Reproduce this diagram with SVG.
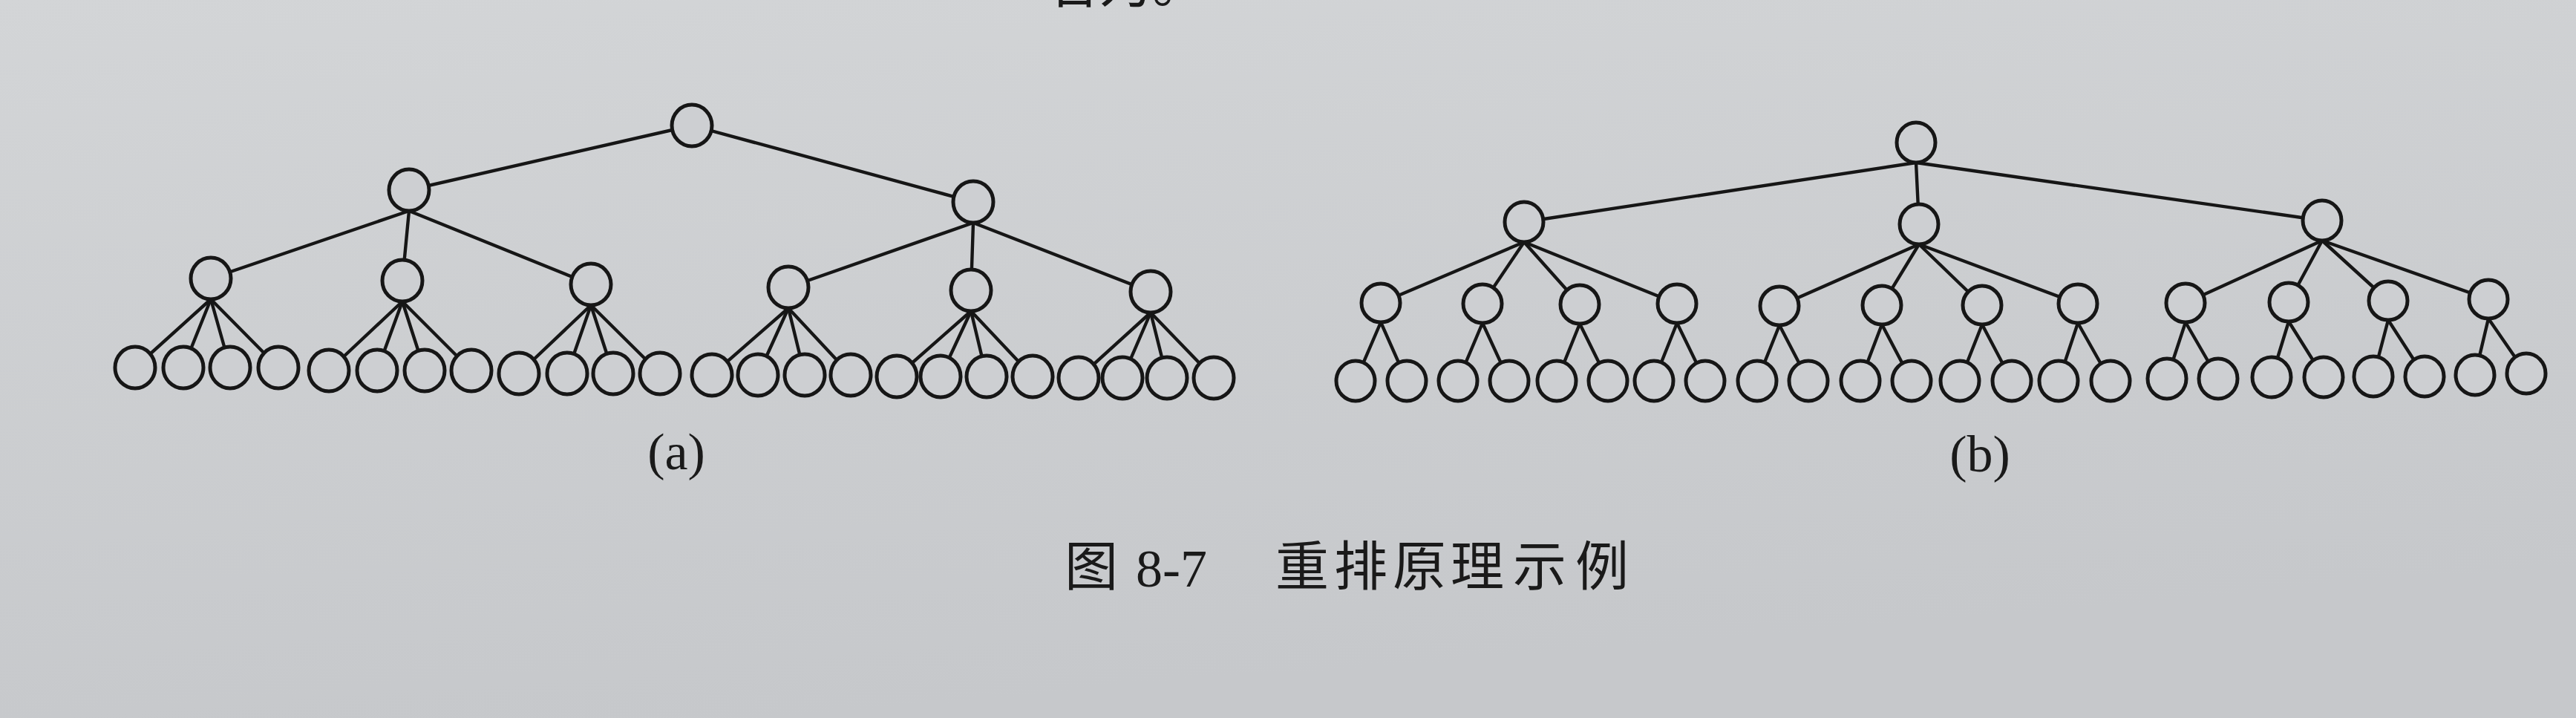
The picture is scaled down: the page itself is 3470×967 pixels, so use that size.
<svg xmlns="http://www.w3.org/2000/svg" width="3470" height="967" viewBox="0 0 3470 967">
<defs>
<linearGradient id="bg" x1="0" y1="0" x2="0.3" y2="1">
<stop offset="0" stop-color="#d3d5d7"/>
<stop offset="1" stop-color="#c6c8cb"/>
</linearGradient>
<style>
.e{stroke:#161616;stroke-width:4.4;fill:none;stroke-linecap:round}
.n{stroke:#161616;stroke-width:5;fill:#cdcfd2}
.lab{font-family:"Liberation Serif","DejaVu Serif",serif;font-size:70px;fill:#1a1a1a}
.cap{font-family:"Noto Sans CJK SC","Noto Sans CJK JP",sans-serif;font-size:72px;fill:#1a1a1a}
.num{font-family:"Liberation Serif","DejaVu Serif",serif;font-size:72px;fill:#1a1a1a}
</style>
</defs>
<rect x="0" y="0" width="3470" height="967" fill="url(#bg)"/>
<text class="cap" x="1408" y="3">名为。</text>

<g id="connectors">
<!-- tree a -->
<line class="e" x1="932" y1="169" x2="551" y2="256"/>
<line class="e" x1="932" y1="169" x2="1311" y2="272"/>
<line class="e" x1="551" y1="284" x2="284" y2="375"/>
<line class="e" x1="551" y1="284" x2="542" y2="378"/>
<line class="e" x1="551" y1="284" x2="796" y2="383"/>
<line class="e" x1="1311" y1="300" x2="1062" y2="387"/>
<line class="e" x1="1311" y1="300" x2="1308" y2="391"/>
<line class="e" x1="1311" y1="300" x2="1550" y2="393"/>
<line class="e" x1="284" y1="403" x2="182" y2="495"/>
<line class="e" x1="284" y1="403" x2="247" y2="495"/>
<line class="e" x1="284" y1="403" x2="310" y2="495"/>
<line class="e" x1="284" y1="403" x2="375" y2="495"/>
<line class="e" x1="542" y1="406" x2="443" y2="499"/>
<line class="e" x1="542" y1="406" x2="508" y2="499"/>
<line class="e" x1="542" y1="406" x2="572" y2="499"/>
<line class="e" x1="542" y1="406" x2="635" y2="499"/>
<line class="e" x1="796" y1="411" x2="699" y2="503"/>
<line class="e" x1="796" y1="411" x2="764" y2="503"/>
<line class="e" x1="796" y1="411" x2="826" y2="503"/>
<line class="e" x1="796" y1="411" x2="889" y2="503"/>
<line class="e" x1="1062" y1="415" x2="959" y2="505"/>
<line class="e" x1="1062" y1="415" x2="1021" y2="505"/>
<line class="e" x1="1062" y1="415" x2="1084" y2="505"/>
<line class="e" x1="1062" y1="415" x2="1146" y2="505"/>
<line class="e" x1="1308" y1="419" x2="1208" y2="507"/>
<line class="e" x1="1308" y1="419" x2="1267" y2="507"/>
<line class="e" x1="1308" y1="419" x2="1329" y2="507"/>
<line class="e" x1="1308" y1="419" x2="1391" y2="507"/>
<line class="e" x1="1550" y1="421" x2="1453" y2="509"/>
<line class="e" x1="1550" y1="421" x2="1512" y2="509"/>
<line class="e" x1="1550" y1="421" x2="1572" y2="509"/>
<line class="e" x1="1550" y1="421" x2="1635" y2="509"/>
<!-- tree b -->
<line class="e" x1="2581" y1="219" x2="2053" y2="299"/>
<line class="e" x1="2581" y1="219" x2="2585" y2="302"/>
<line class="e" x1="2581" y1="219" x2="3128" y2="297"/>
<line class="e" x1="2053" y1="326" x2="1860" y2="408"/>
<line class="e" x1="2053" y1="326" x2="1997" y2="409"/>
<line class="e" x1="2053" y1="326" x2="2128" y2="410"/>
<line class="e" x1="2053" y1="326" x2="2259" y2="409"/>
<line class="e" x1="2585" y1="329" x2="2397" y2="412"/>
<line class="e" x1="2585" y1="329" x2="2535" y2="411"/>
<line class="e" x1="2585" y1="329" x2="2670" y2="411"/>
<line class="e" x1="2585" y1="329" x2="2799" y2="409"/>
<line class="e" x1="3128" y1="324" x2="2944" y2="408"/>
<line class="e" x1="3128" y1="324" x2="3083" y2="407"/>
<line class="e" x1="3128" y1="324" x2="3217" y2="405"/>
<line class="e" x1="3128" y1="324" x2="3352" y2="403"/>
<line class="e" x1="1860" y1="434" x2="1826" y2="513"/>
<line class="e" x1="1860" y1="434" x2="1895" y2="513"/>
<line class="e" x1="1997" y1="435" x2="1964" y2="513"/>
<line class="e" x1="1997" y1="435" x2="2033" y2="513"/>
<line class="e" x1="2128" y1="436" x2="2097" y2="513"/>
<line class="e" x1="2128" y1="436" x2="2166" y2="513"/>
<line class="e" x1="2259" y1="435" x2="2228" y2="513"/>
<line class="e" x1="2259" y1="435" x2="2297" y2="513"/>
<line class="e" x1="2397" y1="438" x2="2367" y2="513"/>
<line class="e" x1="2397" y1="438" x2="2436" y2="513"/>
<line class="e" x1="2535" y1="437" x2="2506" y2="513"/>
<line class="e" x1="2535" y1="437" x2="2575" y2="513"/>
<line class="e" x1="2670" y1="437" x2="2640" y2="513"/>
<line class="e" x1="2670" y1="437" x2="2710" y2="513"/>
<line class="e" x1="2799" y1="435" x2="2773" y2="513"/>
<line class="e" x1="2799" y1="435" x2="2843" y2="513"/>
<line class="e" x1="2944" y1="434" x2="2919" y2="510"/>
<line class="e" x1="2944" y1="434" x2="2988" y2="510"/>
<line class="e" x1="3083" y1="433" x2="3060" y2="508"/>
<line class="e" x1="3083" y1="433" x2="3130" y2="508"/>
<line class="e" x1="3217" y1="431" x2="3197" y2="507"/>
<line class="e" x1="3217" y1="431" x2="3266" y2="507"/>
<line class="e" x1="3352" y1="429" x2="3334" y2="505"/>
<line class="e" x1="3352" y1="429" x2="3403" y2="503"/>
</g>

<!-- tree a nodes -->
<g id="a-root"><ellipse class="n" cx="932" cy="169" rx="27" ry="28"/></g>
<g id="a-1"><ellipse class="n" cx="551" cy="256" rx="27" ry="28"/></g>
<g id="a-2"><ellipse class="n" cx="1311" cy="272" rx="27" ry="28"/></g>
<g id="a-1-1"><ellipse class="n" cx="284" cy="375" rx="27" ry="28"/></g>
<g id="a-1-2"><ellipse class="n" cx="542" cy="378" rx="27" ry="28"/></g>
<g id="a-1-3"><ellipse class="n" cx="796" cy="383" rx="27" ry="28"/></g>
<g id="a-2-1"><ellipse class="n" cx="1062" cy="387" rx="27" ry="28"/></g>
<g id="a-2-2"><ellipse class="n" cx="1308" cy="391" rx="27" ry="28"/></g>
<g id="a-2-3"><ellipse class="n" cx="1550" cy="393" rx="27" ry="28"/></g>
<g id="a-leaf-1"><ellipse class="n" cx="182" cy="495" rx="27" ry="28"/></g>
<g id="a-leaf-2"><ellipse class="n" cx="247" cy="495" rx="27" ry="28"/></g>
<g id="a-leaf-3"><ellipse class="n" cx="310" cy="495" rx="27" ry="28"/></g>
<g id="a-leaf-4"><ellipse class="n" cx="375" cy="495" rx="27" ry="28"/></g>
<g id="a-leaf-5"><ellipse class="n" cx="443" cy="499" rx="27" ry="28"/></g>
<g id="a-leaf-6"><ellipse class="n" cx="508" cy="499" rx="27" ry="28"/></g>
<g id="a-leaf-7"><ellipse class="n" cx="572" cy="499" rx="27" ry="28"/></g>
<g id="a-leaf-8"><ellipse class="n" cx="635" cy="499" rx="27" ry="28"/></g>
<g id="a-leaf-9"><ellipse class="n" cx="699" cy="503" rx="27" ry="28"/></g>
<g id="a-leaf-10"><ellipse class="n" cx="764" cy="503" rx="27" ry="28"/></g>
<g id="a-leaf-11"><ellipse class="n" cx="826" cy="503" rx="27" ry="28"/></g>
<g id="a-leaf-12"><ellipse class="n" cx="889" cy="503" rx="27" ry="28"/></g>
<g id="a-leaf-13"><ellipse class="n" cx="959" cy="505" rx="27" ry="28"/></g>
<g id="a-leaf-14"><ellipse class="n" cx="1021" cy="505" rx="27" ry="28"/></g>
<g id="a-leaf-15"><ellipse class="n" cx="1084" cy="505" rx="27" ry="28"/></g>
<g id="a-leaf-16"><ellipse class="n" cx="1146" cy="505" rx="27" ry="28"/></g>
<g id="a-leaf-17"><ellipse class="n" cx="1208" cy="507" rx="27" ry="28"/></g>
<g id="a-leaf-18"><ellipse class="n" cx="1267" cy="507" rx="27" ry="28"/></g>
<g id="a-leaf-19"><ellipse class="n" cx="1329" cy="507" rx="27" ry="28"/></g>
<g id="a-leaf-20"><ellipse class="n" cx="1391" cy="507" rx="27" ry="28"/></g>
<g id="a-leaf-21"><ellipse class="n" cx="1453" cy="509" rx="27" ry="28"/></g>
<g id="a-leaf-22"><ellipse class="n" cx="1512" cy="509" rx="27" ry="28"/></g>
<g id="a-leaf-23"><ellipse class="n" cx="1572" cy="509" rx="27" ry="28"/></g>
<g id="a-leaf-24"><ellipse class="n" cx="1635" cy="509" rx="27" ry="28"/></g>

<!-- tree b nodes -->
<g id="b-root"><ellipse class="n" cx="2581" cy="192" rx="26" ry="27"/></g>
<g id="b-1"><ellipse class="n" cx="2053" cy="299" rx="26" ry="27"/></g>
<g id="b-2"><ellipse class="n" cx="2585" cy="302" rx="26" ry="27"/></g>
<g id="b-3"><ellipse class="n" cx="3128" cy="297" rx="26" ry="27"/></g>
<g id="b-1-1"><ellipse class="n" cx="1860" cy="408" rx="26" ry="26"/></g>
<g id="b-1-2"><ellipse class="n" cx="1997" cy="409" rx="26" ry="26"/></g>
<g id="b-1-3"><ellipse class="n" cx="2128" cy="410" rx="26" ry="26"/></g>
<g id="b-1-4"><ellipse class="n" cx="2259" cy="409" rx="26" ry="26"/></g>
<g id="b-2-1"><ellipse class="n" cx="2397" cy="412" rx="26" ry="26"/></g>
<g id="b-2-2"><ellipse class="n" cx="2535" cy="411" rx="26" ry="26"/></g>
<g id="b-2-3"><ellipse class="n" cx="2670" cy="411" rx="26" ry="26"/></g>
<g id="b-2-4"><ellipse class="n" cx="2799" cy="409" rx="26" ry="26"/></g>
<g id="b-3-1"><ellipse class="n" cx="2944" cy="408" rx="26" ry="26"/></g>
<g id="b-3-2"><ellipse class="n" cx="3083" cy="407" rx="26" ry="26"/></g>
<g id="b-3-3"><ellipse class="n" cx="3217" cy="405" rx="26" ry="26"/></g>
<g id="b-3-4"><ellipse class="n" cx="3352" cy="403" rx="26" ry="26"/></g>
<g id="b-leaf-1"><ellipse class="n" cx="1826" cy="513" rx="26" ry="27"/></g>
<g id="b-leaf-2"><ellipse class="n" cx="1895" cy="513" rx="26" ry="27"/></g>
<g id="b-leaf-3"><ellipse class="n" cx="1964" cy="513" rx="26" ry="27"/></g>
<g id="b-leaf-4"><ellipse class="n" cx="2033" cy="513" rx="26" ry="27"/></g>
<g id="b-leaf-5"><ellipse class="n" cx="2097" cy="513" rx="26" ry="27"/></g>
<g id="b-leaf-6"><ellipse class="n" cx="2166" cy="513" rx="26" ry="27"/></g>
<g id="b-leaf-7"><ellipse class="n" cx="2228" cy="513" rx="26" ry="27"/></g>
<g id="b-leaf-8"><ellipse class="n" cx="2297" cy="513" rx="26" ry="27"/></g>
<g id="b-leaf-9"><ellipse class="n" cx="2367" cy="513" rx="26" ry="27"/></g>
<g id="b-leaf-10"><ellipse class="n" cx="2436" cy="513" rx="26" ry="27"/></g>
<g id="b-leaf-11"><ellipse class="n" cx="2506" cy="513" rx="26" ry="27"/></g>
<g id="b-leaf-12"><ellipse class="n" cx="2575" cy="513" rx="26" ry="27"/></g>
<g id="b-leaf-13"><ellipse class="n" cx="2640" cy="513" rx="26" ry="27"/></g>
<g id="b-leaf-14"><ellipse class="n" cx="2710" cy="513" rx="26" ry="27"/></g>
<g id="b-leaf-15"><ellipse class="n" cx="2773" cy="513" rx="26" ry="27"/></g>
<g id="b-leaf-16"><ellipse class="n" cx="2843" cy="513" rx="26" ry="27"/></g>
<g id="b-leaf-17"><ellipse class="n" cx="2919" cy="510" rx="26" ry="27"/></g>
<g id="b-leaf-18"><ellipse class="n" cx="2988" cy="510" rx="26" ry="27"/></g>
<g id="b-leaf-19"><ellipse class="n" cx="3060" cy="508" rx="26" ry="27"/></g>
<g id="b-leaf-20"><ellipse class="n" cx="3130" cy="508" rx="26" ry="27"/></g>
<g id="b-leaf-21"><ellipse class="n" cx="3197" cy="507" rx="26" ry="27"/></g>
<g id="b-leaf-22"><ellipse class="n" cx="3266" cy="507" rx="26" ry="27"/></g>
<g id="b-leaf-23"><ellipse class="n" cx="3334" cy="505" rx="26" ry="27"/></g>
<g id="b-leaf-24"><ellipse class="n" cx="3403" cy="503" rx="26" ry="27"/></g>

<g id="labels">
<text class="lab" x="911" y="632" text-anchor="middle">(a)</text>
<text class="lab" x="2667" y="635" text-anchor="middle">(b)</text>
</g>
<g id="caption">
<text class="cap" x="1434" y="788">图</text>
<text class="num" x="1530" y="790">8-7</text>
<text class="cap" x="1718 1797 1876 1954 2038 2122" y="788">重排原理示例</text>
</g>
</svg>
